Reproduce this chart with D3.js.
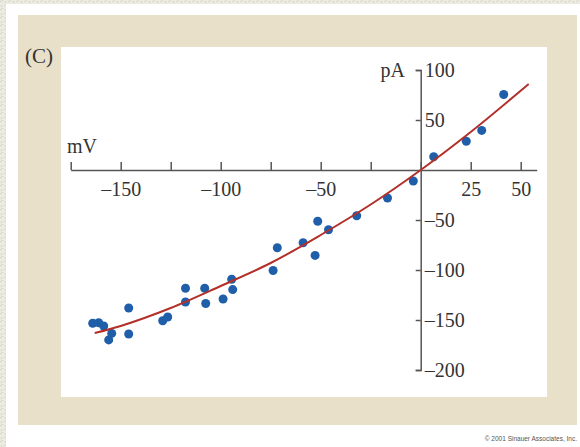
<!DOCTYPE html>
<html><head><meta charset="utf-8">
<script src="https://cdn.jsdelivr.net/npm/d3@7"></script>
<style>
html,body{margin:0;padding:0;background:#e9e8dc;}
svg{display:block;}
</style></head>
<body>
<svg id="c" width="580" height="447"></svg>
<script>
// Data (membrane potential mV vs current pA)
const pointsMV = [41.5, 30.5, 22.8, 6.5, -3.7, -16.6, -32, -46.1, -51.5, -52.8, -58.8, -71.7, -73.8, -94.5, -94.0, -98.8, -108, -107.5, -117.6, -117.6, -126.5, -129, -146, -146, -164, -161, -158.5, -154.5, -156];
const pointsPA = [75.5, 39.6, 28.8, 13.3, -11, -28, -45.8, -59.8, -51.2, -85.4, -72.8, -77.7, -100.5, -109.2, -119.6, -129, -118.3, -133.5, -118.3, -132, -147, -150.8, -138, -164, -153.3, -152.7, -156, -163.4, -169.9];
const curveMV = [-163, -150, -125, -100, -75, -50, -25, 0, 25, 54];
const curvePA = [-163, -156, -138, -116, -93, -65, -34.5, 0, 38, 86];
const xTicks = [-175, -150, -125, -100, -75, -50, -25, 0, 25, 50];
const xLabelled = [-150, -100, -50, 25, 50];
const yTicks = [100, 50, 0, -50, -100, -150, -200];
const yLabelled = [100, 50, -50, -100, -150, -200];

const svg = d3.select("#c");
const serif = "'Liberation Serif','DejaVu Serif',serif";
const fs = 20;

// textured outer background
const defs = svg.append("defs");
const pat = defs.append("pattern").attr("id", "tex").attr("width", 8).attr("height", 8)
  .attr("patternUnits", "userSpaceOnUse");
pat.append("rect").attr("width", 8).attr("height", 8).attr("fill", "#ecebe1");
pat.append("path").attr("d", "M0,2 L3,0 M4,6 L7,4 M1,7 L2,5 M5,1 L6,3")
  .attr("stroke", "#d6d6c6").attr("stroke-width", 1).attr("fill", "none");

svg.append("rect").attr("x",0).attr("y",0).attr("width",580).attr("height",447).attr("fill","url(#tex)");
svg.append("rect").attr("x",6).attr("y",4).attr("width",574).attr("height",443).attr("fill","#ffffff");
svg.append("rect").attr("x",18).attr("y",15).attr("width",559).attr("height",410).attr("fill","#e9e0c9");
svg.append("rect").attr("x",61).attr("y",47).attr("width",486).attr("height",350).attr("fill","#ffffff");

const x = d3.scaleLinear().domain([-175, 58]).range([70.7, 536.7]);
const y = d3.scaleLinear().domain([-200, 100]).range([370, 70]);

const fmt = v => (v < 0 ? "\u2013" + Math.abs(v) : String(v));

// X axis
const gx = svg.append("g").attr("transform", `translate(0,${y(0)})`)
  .call(d3.axisBottom(x).tickValues(xTicks).tickSizeInner(-8).tickSizeOuter(0).tickPadding(12)
    .tickFormat(v => xLabelled.includes(v) ? fmt(v) : ""));
// Y axis
const gy = svg.append("g").attr("transform", `translate(${x(0)},0)`)
  .call(d3.axisRight(y).tickValues(yTicks).tickSizeInner(-5).tickSizeOuter(-5).tickPadding(4)
    .tickFormat(v => yLabelled.includes(v) ? fmt(v) : ""));
gy.selectAll(".tick").filter(d => d === 0).select("line").remove();

[gx, gy].forEach(g => {
  g.select(".domain").attr("stroke", "#555").attr("stroke-width", 1.5);
  g.selectAll(".tick line").attr("stroke", "#555").attr("stroke-width", 1.5);
  g.selectAll(".tick text").attr("fill", "#333").attr("font-family", serif).attr("font-size", fs);
});
gy.selectAll(".tick text").attr("text-anchor", "start");

// axis titles
svg.append("text").attr("x", 405).attr("y", 77).attr("text-anchor", "end")
  .attr("font-family", serif).attr("font-size", fs).attr("fill", "#333").text("pA");
svg.append("text").attr("x", 67).attr("y", 153)
  .attr("font-family", serif).attr("font-size", fs).attr("fill", "#333").text("mV");
svg.append("text").attr("x", 25).attr("y", 63)
  .attr("font-family", serif).attr("font-size", 21).attr("fill", "#333").text("(C)");

// points
const pts = pointsMV.map((v, i) => [v, pointsPA[i]]);
svg.append("g").selectAll("circle").data(pts).join("circle")
  .attr("cx", d => x(d[0])).attr("cy", d => y(d[1])).attr("r", 4.5).attr("fill", "#1f5ea8");

// fitted curve
const cpts = curveMV.map((v, i) => [v, curvePA[i]]);
svg.append("path").datum(cpts)
  .attr("d", d3.line().x(d => x(d[0])).y(d => y(d[1])).curve(d3.curveCatmullRom))
  .attr("fill", "none").attr("stroke", "#b3302a").attr("stroke-width", 2);

// copyright
svg.append("text").attr("x", 577).attr("y", 441).attr("text-anchor", "end")
  .attr("font-family", "'Liberation Sans',Arial,sans-serif").attr("font-size", 6.5).attr("fill", "#555")
  .text("\u00a9 2001 Sinauer Associates, Inc.");
</script>
</body></html>
